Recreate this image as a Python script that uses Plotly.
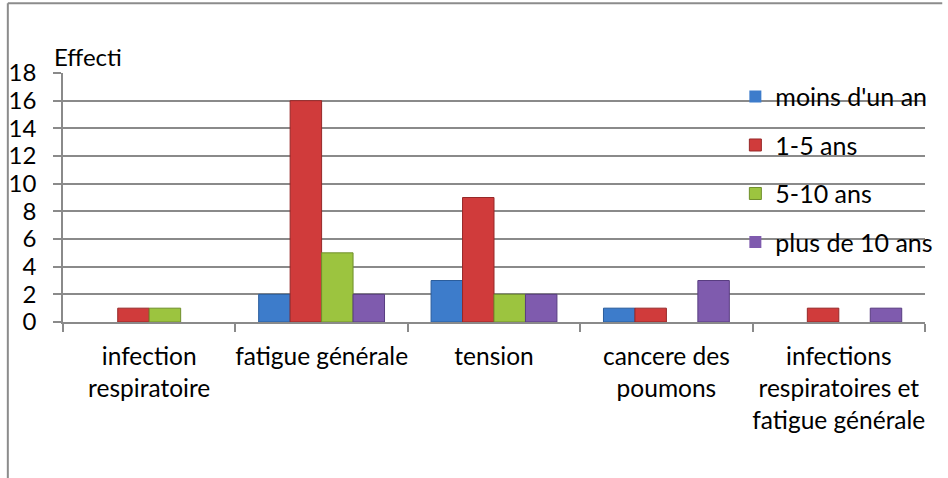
import plotly.graph_objects as go

categories = [
    "infection<br>respiratoire",
    "fatigue générale",
    "tension",
    "cancere des<br>poumons",
    "infections<br>respiratoires et<br>fatigue générale",
]
series_names = ["moins d'un an", "1-5 ans", "5-10 ans", "plus de 10 ans"]
moins_un_an = [0, 2, 3, 1, 0]
un_cinq_ans = [1, 16, 9, 1, 1]
cinq_dix_ans = [1, 5, 2, 0, 0]
plus_dix_ans = [0, 2, 2, 3, 1]
y_ticks = list(range(0, 19, 2))

series_values = [moins_un_an, un_cinq_ans, cinq_dix_ans, plus_dix_ans]
colors = ["#3d7ccb", "#d03b3b", "#9cc43f", "#7f5bae"]
edges = ["#2b5d9c", "#962828", "#708f2c", "#583d80"]

FONT = "Lato, Liberation Sans, sans-serif"
fig = go.Figure()
for name, vals, c, e in zip(series_names, series_values, colors, edges):
    fig.add_trace(go.Bar(
        x=categories, y=vals, name=name, legendgroup=name,
        marker=dict(color=c, line=dict(color=e, width=[1 if v > 0 else 0 for v in vals])),
    ))

fig.update_layout(
    width=948, height=478,
    margin=dict(l=63, r=10, t=73, b=156),
    paper_bgcolor="white", plot_bgcolor="white",
    barmode="group", bargap=0.27, bargroupgap=0,
    font=dict(family=FONT, size=24, color="black"),
    showlegend=True,
    legend=dict(
        x=0.78, y=0.997, xanchor="left", yanchor="top",
        bgcolor="rgba(0,0,0,0)", font=dict(size=25),
        tracegroupgap=13, itemwidth=30,
    ),
    xaxis=dict(
        showgrid=False, showline=True, linecolor="#8a8a8a", linewidth=1.5,
        ticks="outside", tickson="boundaries", ticklen=8, tickcolor="#8a8a8a",
        tickwidth=1.5, tickfont=dict(size=24.5), ticklabelstandoff=12,
        tickangle=0, automargin=False,
    ),
    yaxis=dict(
        range=[0, 18], tickvals=y_ticks, showgrid=True, gridcolor="#8a8a8a",
        gridwidth=1.5, showline=True, linecolor="#8a8a8a", linewidth=1.5,
        ticks="outside", ticklen=8, tickcolor="#8a8a8a", tickwidth=1.5,
        tickfont=dict(size=24), zeroline=False, ticklabelstandoff=12,
        automargin=False,
    ),
    annotations=[dict(
        text="Effecti", xref="paper", yref="paper", x=-0.013, y=1.0,
        xanchor="left", yanchor="bottom", showarrow=False,
        font=dict(size=24, family=FONT),
    )],
    shapes=[
        dict(type="line", xref="paper", yref="paper", x0=-0.064, x1=1.02,
             y0=1.28, y1=1.28, line=dict(color="#8c8c8c", width=2)),
        dict(type="line", xref="paper", yref="paper", x0=-0.064, x1=-0.064,
             y0=1.28, y1=-0.63, line=dict(color="#8c8c8c", width=2)),
    ],
)

fig.write_html("out.html", config={"displayModeBar": False},
               post_script="document.body.style.margin='0';")
